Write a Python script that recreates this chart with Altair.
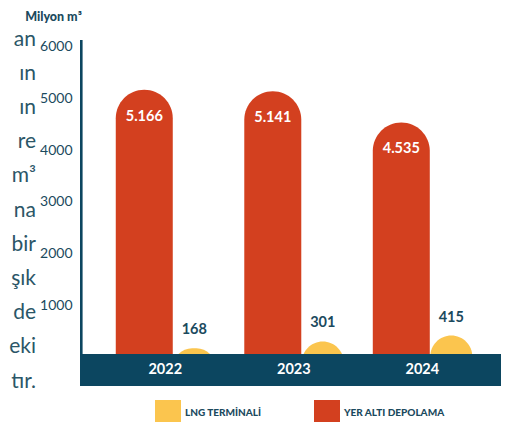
import altair as alt
import pandas as pd

# ---- data ----
years = ["2022", "2023", "2024"]
yer_alti = [5166, 5141, 4535]
lng = [168, 301, 415]
series_names = ["LNG TERMİNALİ", "YER ALTI DEPOLAMA"]
y_ticks = [1000, 2000, 3000, 4000, 5000, 6000]
fragments = ["an", "ın", "ın", "re", "m³", "na", "bir", "şık", "de", "eki", "tır."]

# ---- styles ----
RED = "#d3401f"
YELLOW = "#fbc54e"
NAVY = "#0c4660"
TEXT = "#1b4a5e"
FONT = "Lato"
Y_MIN, Y_MAX = -560, 6130   # band sits below zero
BAND_TOP = 58

def tr_fmt(v):
    return f"{v:,}".replace(",", ".")

rows = []
for y, a, b in zip(years, yer_alti, lng):
    rows.append({"Yıl": y, "Seri": series_names[1], "Değer": a, "Etiket": tr_fmt(a)})
    rows.append({"Yıl": y, "Seri": series_names[0], "Değer": b, "Etiket": str(b)})
df = pd.DataFrame(rows)

xscale = alt.Scale(type="point", domain=years, padding=0.638, align=0.52)
yscale = alt.Scale(domain=[Y_MIN, Y_MAX], nice=False, zero=False)
color = alt.Color(
    "Seri:N",
    scale=alt.Scale(domain=series_names, range=[YELLOW, RED]),
    legend=alt.Legend(
        orient="none", legendX=75, legendY=360, direction="horizontal",
        title=None, symbolType="square", symbolSize=676, symbolStrokeWidth=0,
        symbolOpacity=1, labelFont=FONT, labelFontSize=10, labelFontWeight=900,
        labelColor=TEXT, labelOffset=4, columnPadding=52, padding=0,
    ),
)

base = alt.Chart(df)
X = alt.X("Yıl:N", scale=xscale, axis=None)

red_bars = base.transform_filter(alt.datum.Seri == series_names[1]).mark_bar(
    width=57, xOffset=-21, cornerRadiusTopLeft=28.5, cornerRadiusTopRight=28.5
).encode(
    x=X,
    y=alt.Y(
        "Değer:Q", scale=yscale,
        axis=alt.Axis(
            values=y_ticks, format="d", grid=False, domain=False, ticks=False,
            tickSize=0, labelPadding=8, labelFont=FONT, labelFontSize=14,
            labelColor=TEXT, title="Milyon m³", titleAngle=0, titleX=-27,
            titleY=-24, titleAlign="center", titleBaseline="middle",
            titleFont=FONT, titleFontSize=12.5, titleFontWeight=900, titleColor=TEXT,
        ),
    ),
    y2=alt.datum(Y_MIN),
    color=color,
)

yellow_bars = base.transform_filter(alt.datum.Seri == series_names[0]).mark_bar(
    width=42, xOffset=29, cornerRadiusTopLeft=21, cornerRadiusTopRight=21
).encode(x=X, y=alt.Y("Değer:Q", scale=yscale), y2=alt.datum(Y_MIN), color=color)

band_df = pd.DataFrame({"k": [0]})
band = alt.Chart(band_df).mark_rect(color=NAVY).encode(
    x=alt.value(0), x2=alt.value(421),
    y=alt.datum(BAND_TOP), y2=alt.datum(Y_MIN),
)

axis_line = alt.Chart(band_df).mark_rule(color=NAVY, strokeWidth=2.6).encode(
    x=alt.value(1.3), y=alt.datum(Y_MAX), y2=alt.datum(0)
)

year_df = pd.DataFrame({"Yıl": years})
year_text = alt.Chart(year_df).mark_text(
    color="white", font=FONT, fontSize=14.5, fontWeight="bold", baseline="middle"
).encode(x=X, y=alt.datum(-251), text="Yıl:N")

red_labels = base.transform_filter(alt.datum.Seri == series_names[1]).mark_text(
    color="white", font=FONT, fontSize=14.5, fontWeight="bold",
    baseline="middle", xOffset=-21, dy=27,
).encode(x=X, y=alt.Y("Değer:Q", scale=yscale), text="Etiket:N")

yellow_labels = base.transform_filter(alt.datum.Seri == series_names[0]).mark_text(
    color=TEXT, font=FONT, fontSize=14.5, fontWeight="bold",
    baseline="middle", xOffset=29, dy=-18,
).encode(x=X, y=alt.Y("Değer:Q", scale=yscale), text="Etiket:N")

frag_df = pd.DataFrame({"t": ["\n".join(fragments)]})
frag_text = alt.Chart(frag_df).mark_text(
    align="right", baseline="top", lineBreak="\n", lineHeight=34.2,
    font=FONT, fontSize=21, fontWeight="normal", color="#2b5667",
).encode(x=alt.value(-44), y=alt.value(-11.5), text="t:N")

chart = alt.layer(
    red_bars, yellow_bars, band, axis_line, year_text, red_labels, yellow_labels, frag_text
).properties(
    width=421, height=346,
    padding={"left": 72, "top": 32, "right": 2, "bottom": 36},
    autosize=alt.AutoSizeParams(type="none"),
).configure_view(stroke=None)

chart.save("out.html", embed_options={"renderer": "svg", "actions": False})
